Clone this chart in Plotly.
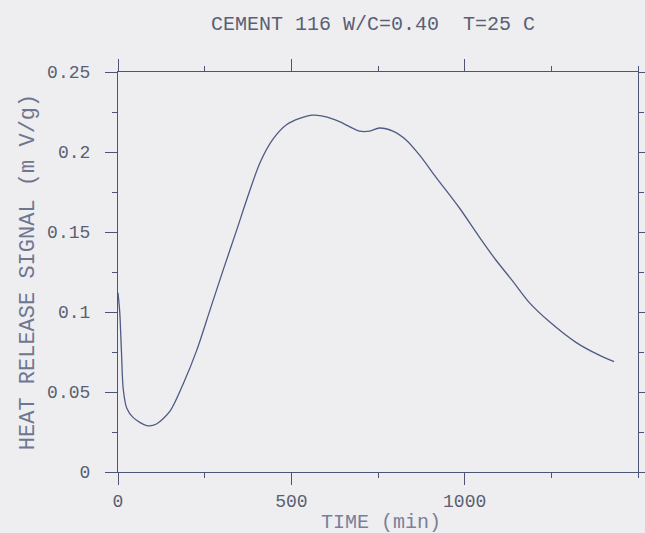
import plotly.graph_objects as go

# Data
time_min = [0, 5, 10, 15, 25, 44, 83, 111, 150, 188, 227, 265, 303, 342, 371, 409, 447,
            486, 524, 562, 601, 639, 697, 726, 754, 793, 831, 870, 918, 985, 1042, 1090,
            1138, 1186, 1244, 1321, 1388, 1431]
heat_signal = [0.112, 0.100, 0.075, 0.052, 0.040, 0.034, 0.029, 0.030, 0.038, 0.055, 0.076,
               0.101, 0.126, 0.151, 0.170, 0.193, 0.208, 0.217, 0.221, 0.223, 0.222, 0.219,
               0.213, 0.213, 0.215, 0.213, 0.2075, 0.198, 0.184, 0.165, 0.147, 0.1325,
               0.1195, 0.106, 0.094, 0.081, 0.073, 0.069]

x_tickvals = [0, 500, 1000]
x_ticktext = ["0", "500", "1000"]
y_tickvals = [0, 0.05, 0.1, 0.15, 0.2, 0.25]
y_ticktext = ["0", "0.05", "0.1", "0.15", "0.2", "0.25"]

title_text = "CEMENT 116 W/C=0.40  T=25 C"
x_title = "TIME (min)"
y_title = "HEAT RELEASE SIGNAL (m V/g)"

FONT = "Liberation Mono"
AXIS_COLOR = "#4c5576"
TEXT_COLOR = "#5a5f72"

fig = go.Figure()
fig.add_trace(go.Scatter(
    x=time_min, y=heat_signal, mode="lines",
    line=dict(color="#4f5a86", width=1.3, shape="spline", smoothing=0.8),
    showlegend=False, hoverinfo="skip",
))

fig.update_layout(
    width=645, height=533,
    margin=dict(l=118, r=7, t=72, b=61, autoexpand=False),
    paper_bgcolor="#eeeef0", plot_bgcolor="#eeeef0",
    font=dict(family=FONT, color=TEXT_COLOR, size=18),
    title=dict(text=title_text, x=373 / 645, xref="container", xanchor="center",
               y=1 - 23 / 533, yref="container", yanchor="middle",
               font=dict(family=FONT, size=20, color=TEXT_COLOR)),
    annotations=[dict(text=x_title, xref="paper", yref="paper", x=0.505, y=-50 / 400,
                      xanchor="center", yanchor="middle", showarrow=False,
                      font=dict(family=FONT, size=20, color="#7a8099"))],
)

fig.update_xaxes(
    range=[0, 1500], showgrid=False, zeroline=False, automargin=False,
    showline=True, linecolor=AXIS_COLOR, linewidth=1.2, mirror="allticks",
    tickmode="array", tickvals=x_tickvals, ticktext=x_ticktext,
    ticks="outside", ticklen=12, tickwidth=1, tickcolor=AXIS_COLOR,
    ticklabelstandoff=0,
    minor=dict(dtick=250, tick0=0, ticks="outside", ticklen=5, tickcolor=AXIS_COLOR, showgrid=False),
    tickfont=dict(family=FONT, size=18, color=TEXT_COLOR),
)
fig.update_yaxes(
    range=[0, 0.25], showgrid=False, zeroline=False, automargin=False,
    showline=True, linecolor=AXIS_COLOR, linewidth=1.2, mirror="allticks",
    tickmode="array", tickvals=y_tickvals, ticktext=y_ticktext,
    ticks="outside", ticklen=12, tickwidth=1, tickcolor=AXIS_COLOR,
    ticklabelstandoff=11,
    minor=dict(dtick=0.025, tick0=0, ticks="outside", ticklen=5, tickcolor=AXIS_COLOR, showgrid=False),
    tickfont=dict(family=FONT, size=18, color=TEXT_COLOR),
    title=dict(text=y_title, standoff=6, font=dict(family=FONT, size=22, color="#6f7690")),
)

fig.write_html("out.html")
